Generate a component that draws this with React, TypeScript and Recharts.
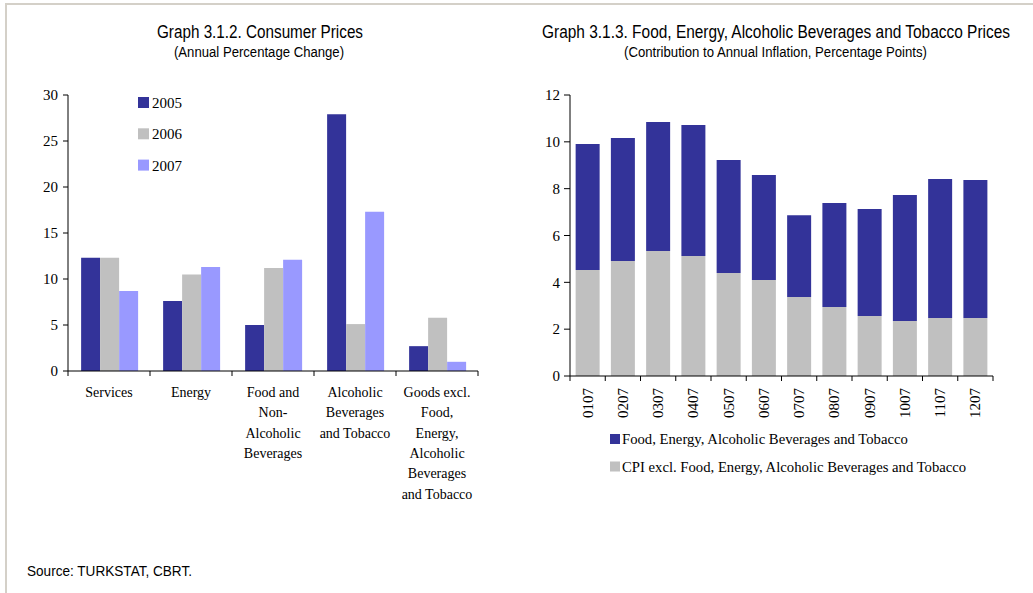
import React from "react";
import { BarChart, Bar, XAxis, YAxis } from "recharts";

// ---------- Data: Graph 3.1.2 ----------
const consumerCategories = [
  "Services",
  "Energy",
  "Food and\nNon-\nAlcoholic\nBeverages",
  "Alcoholic\nBeverages\nand Tobacco",
  "Goods excl.\nFood,\nEnergy,\nAlcoholic\nBeverages\nand Tobacco",
];
const consumerSeriesNames = ["2005", "2006", "2007"];
const prices2005 = [12.3, 7.6, 5.0, 27.9, 2.7];
const prices2006 = [12.3, 10.5, 11.2, 5.1, 5.8];
const prices2007 = [8.7, 11.3, 12.1, 17.3, 1.0];
const consumerTicks = [0, 5, 10, 15, 20, 25, 30];

// ---------- Data: Graph 3.1.3 ----------
const months = ["0107", "0207", "0307", "0407", "0507", "0607", "0707", "0807", "0907", "1007", "1107", "1207"];
const foodEnergyName = "Food, Energy, Alcoholic Beverages and Tobacco";
const coreName = "CPI excl. Food, Energy, Alcoholic Beverages and Tobacco";
const foodEnergyContribution = [5.38, 5.25, 5.51, 5.6, 4.82, 4.48, 3.5, 4.44, 4.57, 5.38, 5.93, 5.89];
const coreContribution = [4.53, 4.91, 5.34, 5.12, 4.4, 4.1, 3.37, 2.95, 2.56, 2.35, 2.48, 2.48];
const contributionTicks = [0, 2, 4, 6, 8, 10, 12];

// ---------- Tables built from arrays ----------
const consumerData = consumerCategories.map((c, i) => ({
  category: c,
  s2005: prices2005[i],
  s2006: prices2006[i],
  s2007: prices2007[i],
}));
const contributionData = months.map((m, i) => ({
  month: m,
  core: coreContribution[i],
  food: foodEnergyContribution[i],
}));

const BLUE = "#333399";
const GRAY = "#C0C0C0";
const LILAC = "#9999FF";
const SERIF = "'Liberation Serif', 'Times New Roman', serif";
const SANS = "'Liberation Sans', Arial, sans-serif";

const LEFT_PLOT_W = 410;
const RIGHT_PLOT_W = 423;

function ConsumerTick(props: any) {
  const { x, y, payload, index } = props;
  const band = LEFT_PLOT_W / consumerCategories.length;
  const lines = String(payload.value).split("\n");
  return (
    <g>
      <line x1={x - band / 2} x2={x - band / 2} y1={y} y2={y + 5} stroke="#000" strokeWidth={1} />
      {index === consumerCategories.length - 1 && (
        <line x1={x + band / 2} x2={x + band / 2} y1={y} y2={y + 5} stroke="#000" strokeWidth={1} />
      )}
      <text x={x} y={y + 26} textAnchor="middle" fontFamily={SERIF} fontSize={14} fill="#000">
        {lines.map((l, i) => (
          <tspan key={i} x={x} dy={i === 0 ? 0 : 20.3}>
            {l}
          </tspan>
        ))}
      </text>
    </g>
  );
}

function MonthTick(props: any) {
  const { x, y, payload, index } = props;
  const band = RIGHT_PLOT_W / months.length;
  return (
    <g>
      <line x1={x - band / 2} x2={x - band / 2} y1={y} y2={y + 5} stroke="#000" strokeWidth={1} />
      {index === months.length - 1 && (
        <line x1={x + band / 2} x2={x + band / 2} y1={y} y2={y + 5} stroke="#000" strokeWidth={1} />
      )}
      <text
        x={x}
        y={y + 12}
        transform={`rotate(-90, ${x}, ${y + 12})`}
        textAnchor="end"
        dominantBaseline="central"
        fontFamily={SERIF}
        fontSize={15}
        fill="#000"
      >
        {payload.value}
      </text>
    </g>
  );
}

const yTickStyle = { fontFamily: SERIF, fontSize: 15, fill: "#000" };

export default function App() {
  const consumerColors = [BLUE, GRAY, LILAC];
  const rightTitleScale = 0.82;
  return (
    <div
      style={{
        position: "absolute",
        left: 0,
        top: 0,
        width: 1033,
        height: 593,
        background: "#fff",
        overflow: "hidden",
      }}
    >
      {/* frame */}
      <div style={{ position: "absolute", left: 5, top: 3, width: 1028, height: 2, background: "#d4d0c8" }} />
      <div style={{ position: "absolute", left: 5, top: 3, width: 2, height: 590, background: "#d4d0c8" }} />

      {/* Left chart */}
      <div style={{ position: "absolute", left: 0, top: 0 }}>
        <BarChart
          width={520}
          height={520}
          data={consumerData}
          margin={{ top: 95, right: 42, left: 8, bottom: 0 }}
          barCategoryGap="16%"
          barGap={0}
        >
          <XAxis
            dataKey="category"
            interval={0}
            height={149}
            tickLine={false}
            tickSize={0}
            tickMargin={0}
            tick={<ConsumerTick />}
            axisLine={{ stroke: "#000" }}
          />
          <YAxis
            width={60}
            domain={[0, 30]}
            ticks={consumerTicks}
            tickSize={5}
            tickLine={{ stroke: "#000" }}
            axisLine={{ stroke: "#000" }}
            tick={yTickStyle}
            tickMargin={5}
          />
          <Bar dataKey="s2005" name={consumerSeriesNames[0]} fill={BLUE} isAnimationActive={false} />
          <Bar dataKey="s2006" name={consumerSeriesNames[1]} fill={GRAY} isAnimationActive={false} />
          <Bar dataKey="s2007" name={consumerSeriesNames[2]} fill={LILAC} isAnimationActive={false} />
        </BarChart>
      </div>

      {/* Right chart */}
      <div style={{ position: "absolute", left: 520, top: 0 }}>
        <BarChart
          width={513}
          height={440}
          data={contributionData}
          margin={{ top: 95, right: 40, left: 0, bottom: 0 }}
          barCategoryGap="16%"
        >
          <XAxis
            dataKey="month"
            interval={0}
            height={64}
            tickLine={false}
            tickSize={0}
            tickMargin={0}
            tick={<MonthTick />}
            axisLine={{ stroke: "#000" }}
          />
          <YAxis
            width={50}
            domain={[0, 12]}
            ticks={contributionTicks}
            tickSize={6}
            tickLine={{ stroke: "#000" }}
            axisLine={{ stroke: "#000" }}
            tick={yTickStyle}
            tickMargin={4}
          />
          <Bar dataKey="core" name={coreName} stackId="a" fill={GRAY} isAnimationActive={false} />
          <Bar dataKey="food" name={foodEnergyName} stackId="a" fill={BLUE} isAnimationActive={false} />
        </BarChart>
      </div>

      {/* Text overlay */}
      <svg width={1033} height={593} style={{ position: "absolute", left: 0, top: 0, pointerEvents: "none" }}>
        <text x={157} y={38} textLength={206} lengthAdjust="spacingAndGlyphs" fontFamily={SANS} fontSize={17.5} fill="#000">
          Graph 3.1.2. Consumer Prices
        </text>
        <text x={174} y={57} textLength={170} lengthAdjust="spacingAndGlyphs" fontFamily={SANS} fontSize={14} fill="#000">
          (Annual Percentage Change)
        </text>
        <g transform={`translate(542, 38) scale(${rightTitleScale}, 1)`}>
          <text
            x={0}
            y={0}
            textLength={468 / rightTitleScale}
            lengthAdjust="spacingAndGlyphs"
            fontFamily={SANS}
            fontSize={17.5}
            fill="#000"
          >
            Graph 3.1.3. Food, Energy, Alcoholic Beverages and Tobacco Prices
          </text>
        </g>
        <text x={624} y={57} textLength={303} lengthAdjust="spacingAndGlyphs" fontFamily={SANS} fontSize={14} fill="#000">
          (Contribution to Annual Inflation, Percentage Points)
        </text>

        {consumerSeriesNames.map((n, i) => (
          <g key={n}>
            <rect x={138} y={97 + i * 31.3} width={11} height={11} fill={consumerColors[i]} />
            <text x={152} y={108 + i * 31.3} fontFamily={SERIF} fontSize={15} fill="#000">
              {n}
            </text>
          </g>
        ))}

        {[foodEnergyName, coreName].map((n, i) => (
          <g key={n}>
            <rect x={610} y={434 + i * 27.5} width={10} height={10} fill={i === 0 ? BLUE : GRAY} />
            <text x={622} y={444 + i * 27.5} fontFamily={SERIF} fontSize={14.7} fill="#000">
              {n}
            </text>
          </g>
        ))}

        <text x={27} y={576} textLength={165} lengthAdjust="spacingAndGlyphs" fontFamily={SANS} fontSize={14} fill="#000">
          Source: TURKSTAT, CBRT.
        </text>
      </svg>
    </div>
  );
}
